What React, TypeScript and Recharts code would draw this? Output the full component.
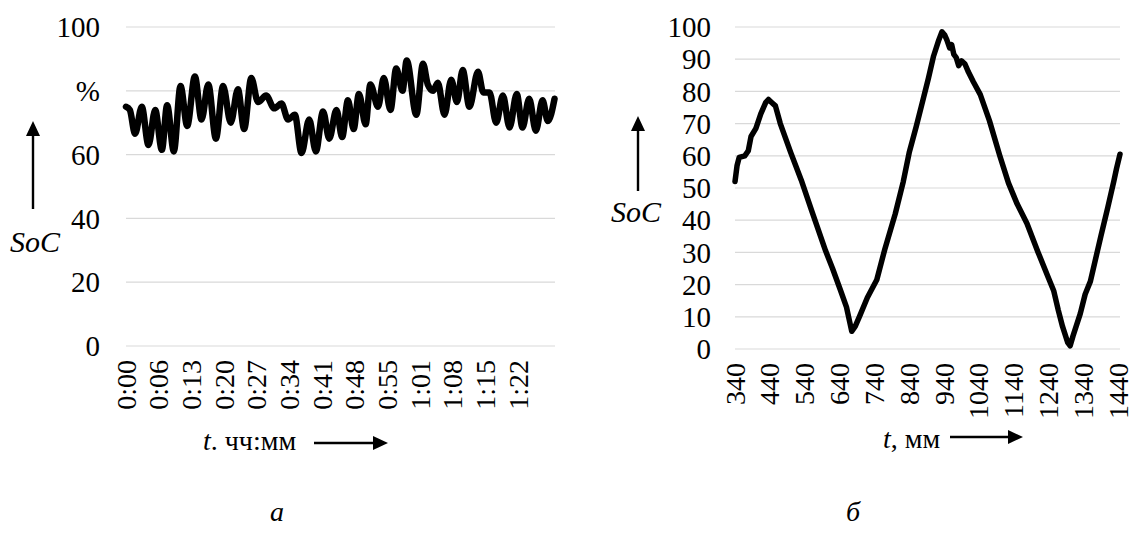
import React from 'react';
import { LineChart, Line, XAxis, YAxis, CartesianGrid } from 'recharts';

// ---- Chart "а": SoC over time (minutes) ----
const leftTime: number[] = [
  0, 0.8, 1.9, 3.3, 4.7, 6.1, 7.5, 8.6, 10.0, 11.4, 12.8, 14.4, 15.8, 17.2, 18.8, 20.3, 21.9, 23.4, 24.7, 26.2,
  27.6, 29.3, 31.0, 32.5, 33.9, 35.3, 36.7, 38.3, 39.7, 41.2, 42.5, 44.0, 45.2, 46.4, 47.6, 48.7, 50.1, 51.1,
  52.7, 53.9, 55.3, 56.5, 57.8, 58.7, 60.7, 62.1, 63.1, 64.2, 65.2, 66.6, 68.0, 69.2, 70.4, 71.8, 73.6, 74.7,
  76.0, 77.4, 78.8, 80.2, 81.7, 82.9, 84.3, 85.7, 87.1, 88.2, 89.6,
];
const leftSoC: number[] = [
  75, 74, 66.5, 75, 63, 74, 61.5, 75.5, 61, 81.5, 69, 84.5, 71, 82, 65, 81.5, 70, 80.5, 68, 84,
  76.5, 78.5, 74.5, 76, 71, 72.5, 60.5, 71, 61, 73.5, 65, 74, 65.5, 77, 68, 79, 69.5, 82,
  75, 84, 74, 87, 80, 89.5, 72.5, 88.5, 82, 80, 82.5, 72.5, 83.5, 76.5, 86.5, 75, 86, 79.5,
  79.5, 70, 78.5, 68.5, 79, 68.5, 77.5, 67.5, 77, 70.5, 77.5,
];
const leftXTickLabels: string[] = ['0:00', '0:06', '0:13', '0:20', '0:27', '0:34', '0:41', '0:48', '0:55', '1:01', '1:08', '1:15', '1:22'];
const leftXTickStep = 6.833; // minutes between labelled categories
const leftYTicks: number[] = [0, 20, 40, 60, 80, 100];
const leftYTickLabels: string[] = ['0', '20', '40', '60', '%', '100'];

// ---- Chart "б": SoC over time (minutes) ----
const rightTime: number[] = [
  340, 346, 352, 368, 378, 386, 400, 414, 428, 436, 446, 456, 470, 500, 530, 560, 600, 620, 642, 660, 668, 675,
  685, 699, 720, 747, 770, 800, 823, 840, 860, 881, 895, 910, 925, 934, 942, 948, 956, 962, 968, 975, 982, 990,
  1000, 1010, 1024, 1044, 1070, 1100, 1125, 1150, 1178, 1210, 1240, 1255, 1268, 1280, 1295, 1302, 1310, 1331,
  1345, 1360, 1390, 1410, 1427, 1435, 1445,
];
const rightSoC: number[] = [
  52, 57, 59.5, 60, 61.5, 66, 68.5, 73, 76.5, 77.5, 76.5, 75.5, 70, 61, 52.5, 43, 30.5, 25, 18.5, 13, 9, 5.5,
  7, 10.5, 16, 21.5, 31, 42, 52, 61, 69, 78, 84, 91, 96, 98.5, 97.5, 96, 93.5, 94.5, 91.5, 90.5, 88, 89.5,
  88.5, 86, 83, 79, 71, 60, 51.5, 45, 39, 30, 22, 18, 12, 7, 2, 1, 4, 11,
  17, 21, 35, 44, 52, 56, 60.5,
];
const rightXTicks: number[] = [340, 440, 540, 640, 740, 840, 940, 1040, 1140, 1240, 1340, 1440];
const rightYTicks: number[] = [0, 10, 20, 30, 40, 50, 60, 70, 80, 90, 100];

const leftData = leftTime.map((t, i) => ({ t, soc: leftSoC[i] }));
const rightData = rightTime.map((t, i) => ({ t, soc: rightSoC[i] }));
const leftXTicks = leftXTickLabels.map((_, i) => i * leftXTickStep);

const FONT = '"Liberation Serif", "Times New Roman", Times, serif';
const TICK_SIZE = 28;
const YTICK_SIZE = 29;

const RotTick = (props: any) => {
  const { x, y, payload, labelFor } = props;
  const label = labelFor ? labelFor(payload.value) : String(payload.value);
  return (
    <text
      x={0}
      y={0}
      transform={`translate(${x},${y + 14}) rotate(-90)`}
      textAnchor="end"
      dominantBaseline="central"
      fontFamily={FONT}
      fontSize={TICK_SIZE}
      fill="#000"
    >
      {label}
    </text>
  );
};

const Arrow = ({ x1, y1, x2, y2 }: { x1: number; y1: number; x2: number; y2: number }) => {
  const dx = x2 - x1;
  const dy = y2 - y1;
  const len = Math.sqrt(dx * dx + dy * dy);
  const ux = dx / len;
  const uy = dy / len;
  const hl = 15;
  const hw = 7;
  const bx = x2 - ux * hl;
  const by = y2 - uy * hl;
  const px = -uy * hw;
  const py = ux * hw;
  return (
    <g>
      <line x1={x1} y1={y1} x2={bx} y2={by} stroke="#000" strokeWidth={2.4} />
      <polygon points={`${x2},${y2} ${bx + px},${by + py} ${bx - px},${by - py}`} fill="#000" />
    </g>
  );
};

export default function App() {
  return (
    <div style={{ position: 'absolute', left: 0, top: 0, width: 1132, height: 539, background: '#fff', overflow: 'hidden' }}>
      <div style={{ position: 'absolute', left: 0, top: 0 }}>
        <LineChart width={560} height={539} data={leftData} margin={{ top: 27, right: 5, left: 0, bottom: 0 }}>
          <CartesianGrid vertical={false} stroke="#d9d9d9" strokeWidth={1.2} />
          <XAxis
            dataKey="t"
            type="number"
            domain={[0, 89.7]}
            ticks={leftXTicks}
            interval={0}
            height={193}
            axisLine={false}
            tickLine={false}
            tickSize={0}
            tickMargin={0}
            tick={<RotTick labelFor={(v: number) => leftXTickLabels[Math.round(v / leftXTickStep)]} />}
          />
          <YAxis
            type="number"
            domain={[0, 100]}
            ticks={leftYTicks}
            interval={0}
            width={126}
            axisLine={false}
            tickLine={false}
            tickSize={0}
            tickMargin={26}
            tickFormatter={(v: number) => leftYTickLabels[leftYTicks.indexOf(v)]}
            tick={{ fontFamily: FONT, fontSize: YTICK_SIZE, fill: '#000' }}
          />
          <Line type="monotone" dataKey="soc" stroke="#000" strokeWidth={6.5} dot={false} isAnimationActive={false} strokeLinejoin="round" strokeLinecap="round" />
        </LineChart>
      </div>
      <div style={{ position: 'absolute', left: 560, top: 0 }}>
        <LineChart width={572} height={539} data={rightData} margin={{ top: 27, right: 12, left: 0, bottom: 0 }}>
          <CartesianGrid vertical={false} stroke="#d9d9d9" strokeWidth={1.2} />
          <XAxis
            dataKey="t"
            type="number"
            domain={[340, 1445]}
            ticks={rightXTicks}
            interval={0}
            height={190}
            axisLine={false}
            tickLine={false}
            tickSize={0}
            tickMargin={0}
            tick={<RotTick />}
          />
          <YAxis
            type="number"
            domain={[0, 100]}
            ticks={rightYTicks}
            interval={0}
            width={175}
            axisLine={false}
            tickLine={false}
            tickSize={0}
            tickMargin={24}
            tick={{ fontFamily: FONT, fontSize: YTICK_SIZE, fill: '#000' }}
          />
          <Line type="linear" dataKey="soc" stroke="#000" strokeWidth={5.5} dot={false} isAnimationActive={false} strokeLinejoin="round" strokeLinecap="round" />
        </LineChart>
      </div>
      <svg width={1132} height={539} style={{ position: 'absolute', left: 0, top: 0, pointerEvents: 'none' }}>
        {/* left y label */}
        <Arrow x1={33} y1={209} x2={33} y2={121} />
        <text x={35} y={252} textAnchor="middle" fontFamily={FONT} fontSize={30} fontStyle="italic">SoC</text>
        {/* left x label */}
        <text x={203} y={450} fontFamily={FONT} fontSize={28}>
          <tspan fontStyle="italic">t</tspan>. чч:мм
        </text>
        <Arrow x1={314} y1={443} x2={388} y2={443} />
        <text x={277} y={521} textAnchor="middle" fontFamily={FONT} fontSize={28} fontStyle="italic">а</text>

        {/* right y label */}
        <Arrow x1={638} y1={191} x2={638} y2={116} />
        <text x={636} y={222} textAnchor="middle" fontFamily={FONT} fontSize={30} fontStyle="italic">SoC</text>
        {/* right x label */}
        <text x={883} y={448} fontFamily={FONT} fontSize={28}>
          <tspan fontStyle="italic">t</tspan>, мм
        </text>
        <Arrow x1={950} y1={437} x2={1023} y2={437} />
        <text x={853} y={521} textAnchor="middle" fontFamily={FONT} fontSize={28} fontStyle="italic">б</text>
      </svg>
    </div>
  );
}
